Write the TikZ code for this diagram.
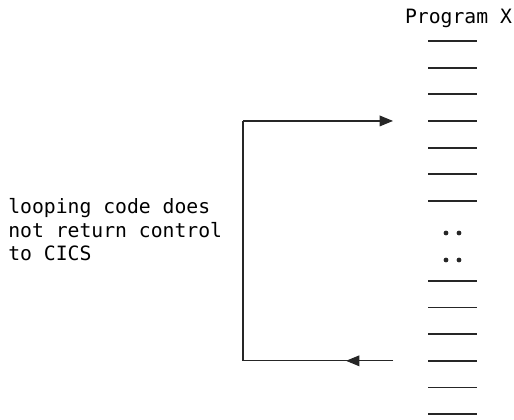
\documentclass[tikz,border=0pt]{standalone}
\usepackage{fontspec}
\setmonofont{DejaVu Sans Mono}
\usetikzlibrary{arrows.meta}
\begin{document}
\begin{tikzpicture}[x=0.75pt,y=-0.75pt,
  txt/.style={font=\ttfamily\fontsize{14.8}{17.6}\selectfont, inner sep=0pt},
  codeline/.style={line width=1.4pt, black!85},
  flow/.style={line width=0.9pt, black!85},
  head/.style={-{Triangle[length=10pt,width=8pt]}}]
\useasboundingbox (0,0) rectangle (514,419);
\node[txt, anchor=base] (title) at (458.5,23) {Program X};
\foreach \k in {0,...,6,9,10,...,14}{
  \coordinate (L\k) at (428,{41+26.65*\k});
  \draw[codeline] (L\k) -- ++(49,0);
}
\foreach \y in {233,260}{
  \fill[black!85] (446,\y) circle (1.8pt);
  \fill[black!85] (459,\y) circle (1.8pt);
}
\node[txt, anchor=west, align=left] (note) at (8,230) {looping code does\\not return control\\to CICS};
\coordinate (topin) at (393,{41+26.65*3});
\coordinate (botout) at (393,{41+26.65*12});
\coordinate (tl) at (243,{41+26.65*3});
\coordinate (bl) at (243,{41+26.65*12});
\coordinate (mid) at (346,{41+26.65*12});
\draw[flow] (botout) -- (bl) -- (tl);
\draw[flow, head] (tl) -- (topin);
\draw[flow, head] (botout) -- (mid);
\end{tikzpicture}
\end{document}
